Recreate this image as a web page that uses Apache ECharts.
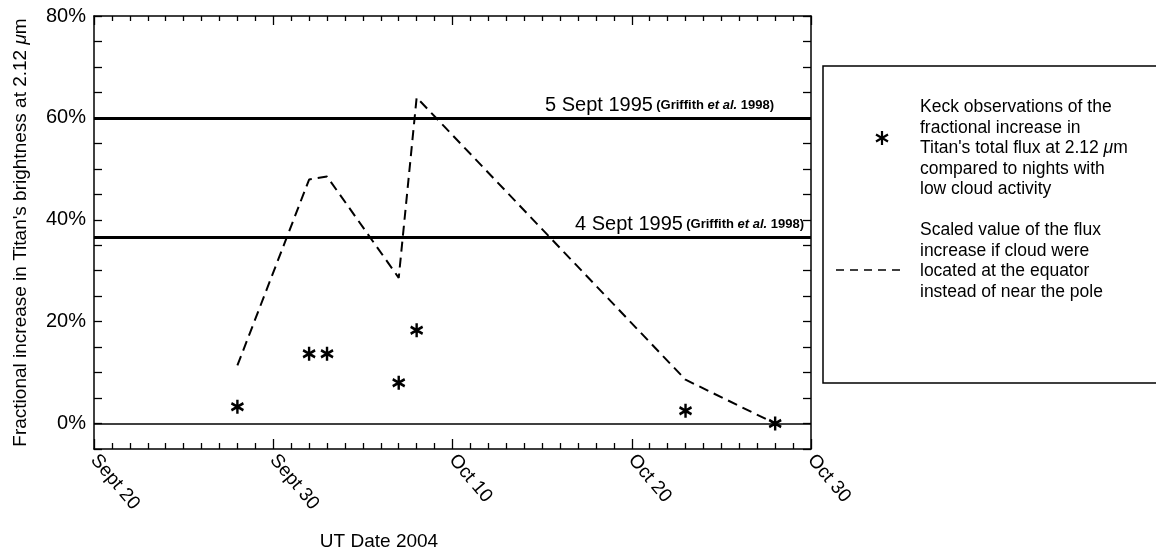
<!DOCTYPE html>
<html>
<head>
<meta charset="utf-8">
<script src="https://cdn.jsdelivr.net/npm/echarts@6/dist/echarts.min.js"></script>
<style>
  html, body { margin: 0; padding: 0; background: #fff; }
  #chart { width: 1156px; height: 556px; }
</style>
</head>
<body>
<div id="chart"></div>
<script>
// x values are days after Sept 20, 2004 (UT)
const xTickDays = [0, 10, 20, 30, 40];
const xTickLabels = ['Sept 20', 'Sept 30', 'Oct 10', 'Oct 20', 'Oct 30'];

// Keck observations: fractional increase in total flux at 2.12 um (%)
const obsDay = [8, 12, 13, 17, 18, 33, 38];
const obsIncrease = [3.3, 13.7, 13.7, 8.0, 18.3, 2.5, 0.0];

// Same increase scaled as if the cloud sat at the equator (%)
const eqDay = [8, 12, 13, 17, 18, 33, 38];
const eqIncrease = [11.4, 47.9, 48.5, 28.6, 64.0, 8.6, 0.0];

// Reference brightening events (Griffith et al. 1998), %
const refNames = ['5 Sept 1995', '4 Sept 1995'];
const refValues = [59.9, 36.6];

const FONT = '"Liberation Sans", Arial, Helvetica, sans-serif';
const starPath = 'path://M0,0L0,20M-8.66,5L8.66,15M-8.66,15L8.66,5';

const chart = echarts.init(document.getElementById('chart'), null, { renderer: 'canvas' });

const tickStyle = { color: '#000', width: 1.3 };
function xAxisDef(pos, showLabel, majorLen, minorLen) {
  return {
    type: 'value', position: pos, min: 0, max: 40, interval: 10,
    axisLine: { show: true, onZero: false, lineStyle: { color: '#000', width: 1.5 } },
    axisTick: { show: true, inside: true, length: majorLen, lineStyle: tickStyle },
    minorTick: { show: true, splitNumber: 10, length: minorLen, lineStyle: tickStyle },
    splitLine: { show: false }, minorSplitLine: { show: false },
    axisLabel: {
      show: showLabel, rotate: -50, margin: 8,
      fontFamily: FONT, fontSize: 19, color: '#000',
      formatter: v => { const i = xTickDays.indexOf(v); return i >= 0 ? xTickLabels[i] : ''; }
    }
  };
}
function yAxisDef(pos, showLabel) {
  return {
    type: 'value', position: pos, min: -5, max: 80, interval: 5,
    axisLine: { show: true, onZero: false, lineStyle: { color: '#000', width: 1.5 } },
    axisTick: { show: true, inside: true, length: 8, lineStyle: tickStyle },
    splitLine: { show: false },
    axisLabel: {
      show: showLabel, margin: 8, fontFamily: FONT, fontSize: 20, color: '#000',
      formatter: v => (v >= 0 && v % 20 === 0) ? v + '%' : ''
    }
  };
}

const yName = {
  ...yAxisDef('left', true),
  name: "Fractional increase in Titan's brightness at 2.12 {i|\u03bc}m",
  nameLocation: 'middle', nameGap: 64,
  nameTextStyle: {
    fontFamily: FONT, fontSize: 19, color: '#000',
    rich: { i: { fontFamily: FONT, fontSize: 19, fontStyle: 'italic', color: '#000' } }
  }
};

const refRich = {
  a: { fontFamily: FONT, fontSize: 20, color: '#000' },
  b: { fontFamily: FONT, fontSize: 13, fontWeight: 'bold', color: '#000' },
  c: { fontFamily: FONT, fontSize: 13, fontWeight: 'bold', fontStyle: 'italic', color: '#000' }
};
const refPad = [[0, 34, 0, 0], [0, 4, 0, 0]];

const option = {
  animation: false,
  backgroundColor: '#fff',
  grid: { left: 94, right: 345, top: 16, bottom: 107, containLabel: false },
  xAxis: [xAxisDef('bottom', true, 10, 6), xAxisDef('top', false, 9, 5)],
  yAxis: [yName, yAxisDef('right', false)],
  series: [
    {
      name: 'refs', type: 'line', data: [], silent: true,
      markLine: {
        silent: true, symbol: 'none',
        data: [
          { yAxis: 0, lineStyle: { color: '#000', width: 1.5, type: 'solid' }, label: { show: false } },
          ...refValues.map((v, i) => ({
            yAxis: v,
            lineStyle: { color: '#000', width: 3, type: 'solid' },
            label: {
              show: true, position: 'insideEndTop', distance: 3,
              padding: refPad[i],
              formatter: '{a|' + refNames[i] + '} {b|(Griffith }{c|et al.}{b| 1998)}',
              rich: refRich
            }
          }))
        ]
      }
    },
    {
      name: 'equator', type: 'line', silent: true,
      data: eqDay.map((d, i) => [d, eqIncrease[i]]),
      showSymbol: false, symbol: 'none',
      lineStyle: { color: '#000', width: 2, type: [10, 6] }
    },
    {
      name: 'keck', type: 'scatter', silent: true,
      data: obsDay.map((d, i) => [d, obsIncrease[i]]),
      symbol: starPath, symbolSize: [12, 14],
      itemStyle: { color: '#000', borderColor: '#000', borderWidth: 2.6, opacity: 1 }
    }
  ],
  graphic: [
    { type: 'text', x: 379, y: 542,
      style: { text: 'UT Date 2004', fontFamily: FONT, fontSize: 19, fill: '#000', align: 'center', verticalAlign: 'middle' } },
    { type: 'rect', shape: { x: 823, y: 66, width: 340, height: 317 },
      style: { fill: 'none', stroke: '#000', lineWidth: 1.5 } },
    { type: 'group', children: [
      { type: 'line', shape: { x1: 882, y1: 131, x2: 882, y2: 145 }, style: { stroke: '#000', lineWidth: 2.2 } },
      { type: 'line', shape: { x1: 876, y1: 134.5, x2: 888, y2: 141.5 }, style: { stroke: '#000', lineWidth: 2.2 } },
      { type: 'line', shape: { x1: 876, y1: 141.5, x2: 888, y2: 134.5 }, style: { stroke: '#000', lineWidth: 2.2 } }
    ] },
    { type: 'line', shape: { x1: 836, y1: 270, x2: 902, y2: 270 },
      style: { stroke: '#000', lineWidth: 1.5, lineDash: [8, 6] } },
    { type: 'text', x: 920, y: 97,
      style: {
        text: "Keck observations of the\nfractional increase in\nTitan's total flux at 2.12 {i|\u03bc}m\ncompared to nights with\nlow cloud activity",
        fontFamily: FONT, fontSize: 17.5, lineHeight: 20.5, fill: '#000',
        rich: { i: { fontFamily: FONT, fontSize: 17.5, fontStyle: 'italic', lineHeight: 20.5 } }
      } },
    { type: 'text', x: 920, y: 220,
      style: {
        text: 'Scaled value of the flux\nincrease if cloud were\nlocated at the equator\ninstead of near the pole',
        fontFamily: FONT, fontSize: 17.5, lineHeight: 20.5, fill: '#000'
      } }
  ]
};

chart.setOption(option);
</script>
</body>
</html>
